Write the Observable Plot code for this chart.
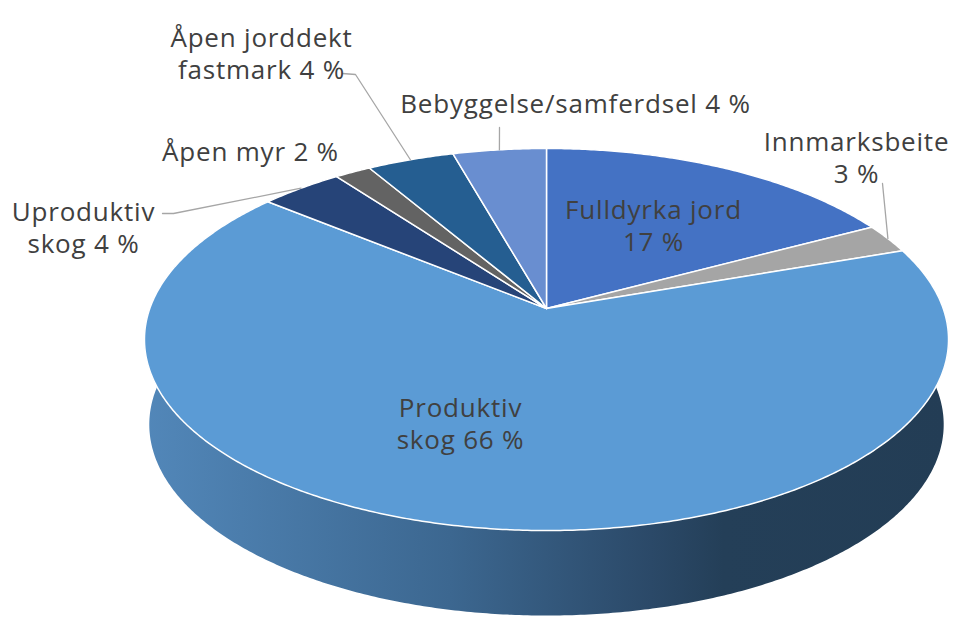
<!DOCTYPE html>
<html>
<head>
<meta charset="utf-8">
<script src="https://cdn.jsdelivr.net/npm/d3@7"></script>
<script src="https://cdn.jsdelivr.net/npm/@observablehq/plot@0.6"></script>
<style>
  html, body { margin: 0; padding: 0; background: #ffffff; }
  #chart { width: 953px; height: 617px; }
</style>
</head>
<body>
<div id="chart"></div>
<script>
// ---- data ----
const categories = ["Fulldyrka jord", "Innmarksbeite", "Produktiv skog", "Uproduktiv skog", "Åpen myr", "Åpen jorddekt fastmark", "Bebyggelse/samferdsel"];
const values = [17.2, 2.5, 66.2, 3.9, 1.7, 4.1, 4.4];
const labelLines = [["Fulldyrka jord", ""], ["Innmarksbeite", ""], ["Produktiv", "skog "], ["Uproduktiv", "skog "], ["Åpen myr "], ["Åpen jorddekt", "fastmark "], ["Bebyggelse/samferdsel "]];

// ---- styles / layout (kept apart from the data) ----
const colors = ["#4472C4", "#A5A5A5", "#5B9BD5", "#264478", "#636363", "#255E91", "#698ED0"];
const labelX = [107, 310, -86, -463, -296, -285, 29];
const labelY = [-84, -152, 114, -82, -158, -256, -206];
const leaderEnds = [null, [[336, -125]], null, [[-373, -95], [-384, -95]], null, [[-191, -234], [-204, -235]], [[-47, -181]]];
const TEXT = "#404040";
const FONT = "Open Sans";

// perspective projection of a tilted disc
const R = 396.7, C = 186, K = 0.1623;
function proj(theta) {
  const u = Math.sin(theta), v = Math.cos(theta), w = 1 + K * v;
  return [R * u / w, -C * v / w];
}
const DEPTH = 85, BOT_SX = 0.988;

const total = d3.sum(values);
let acc = 0;
const slices = values.map((v, i) => {
  const a0 = acc / total * 2 * Math.PI;
  acc += v;
  const a1 = acc / total * 2 * Math.PI;
  return {i, a0, a1, mid: (a0 + a1) / 2};
});

function arcPts(a0, a1) {
  const n = Math.max(2, Math.ceil((a1 - a0) / (Math.PI / 360)));
  return d3.range(n + 1).map(k => proj(a0 + (a1 - a0) * k / n));
}

const marks = [];

// side wall of the front slice (Produktiv skog)
const front = slices[2];
const topArc = arcPts(front.a0, front.a1);
const botArc = topArc.map(([x, y]) => [x * BOT_SX, y + DEPTH]).reverse();
const sidePts = topArc.concat(botArc).map(([x, y]) => ({x, y}));
marks.push(Plot.line(sidePts, {x: "x", y: "y", curve: "linear-closed", fill: "url(#sideGrad)", stroke: "none"}));

// top faces
slices.forEach(s => {
  const pts = [[0, 0], ...arcPts(s.a0, s.a1)].map(([x, y]) => ({x, y}));
  marks.push(Plot.line(pts, {x: "x", y: "y", curve: "linear-closed", fill: colors[s.i], stroke: "white", strokeWidth: 1.5, strokeLinejoin: "round"}));
});

// leader lines
slices.forEach(s => {
  const ends = leaderEnds[s.i];
  if (!ends) return;
  const start = proj(s.mid);
  const pts = [start, ...ends].map(([x, y]) => ({x, y}));
  marks.push(Plot.line(pts, {x: "x", y: "y", stroke: "#A6A6A6", strokeWidth: 1.3}));
});

// labels
const labels = slices.map(s => {
  const lines = labelLines[s.i].slice();
  const pct = Math.round(values[s.i]) + " %";
  lines[lines.length - 1] = lines[lines.length - 1] + pct;
  return {x: labelX[s.i], y: labelY[s.i], text: lines.join("\n")};
});
marks.push(Plot.text(labels, {x: "x", y: "y", text: "text", fill: TEXT, fontSize: 26, lineHeight: 1.26, fontFamily: FONT, textAnchor: "middle"}));

const svg = Plot.plot({
  width: 953,
  height: 617,
  margin: 0,
  x: {domain: [-546, 407], range: [0, 953], axis: null},
  y: {domain: [-308, 309], range: [0, 617], axis: null},
  style: {background: "#ffffff", fontFamily: FONT, letterSpacing: "0.8px"},
  marks
});

// gradient definition for the side wall
const ns = "http://www.w3.org/2000/svg";
const defs = document.createElementNS(ns, "defs");
const grad = document.createElementNS(ns, "linearGradient");
grad.setAttribute("id", "sideGrad");
grad.setAttribute("x1", "0"); grad.setAttribute("x2", "1");
grad.setAttribute("y1", "0"); grad.setAttribute("y2", "0");
[[0, "#5287B9"], [0.38, "#3C6790"], [0.63, "#2B4968"], [0.72, "#243F58"], [1, "#233D55"]].forEach(([o, c]) => {
  const st = document.createElementNS(ns, "stop");
  st.setAttribute("offset", o);
  st.setAttribute("stop-color", c);
  grad.appendChild(st);
});
defs.appendChild(grad);
svg.insertBefore(defs, svg.firstChild);

document.getElementById("chart").appendChild(svg);
</script>
</body>
</html>
